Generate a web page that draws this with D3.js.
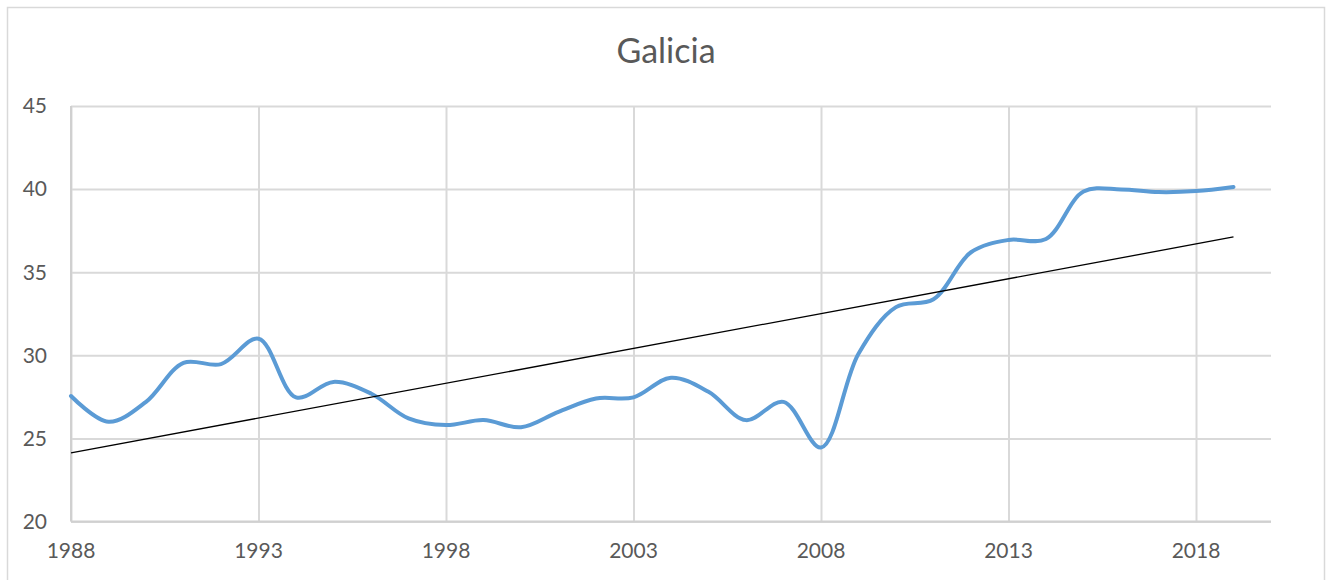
<!DOCTYPE html>
<html>
<head>
<meta charset="utf-8">
<script src="https://cdn.jsdelivr.net/npm/d3@7"></script>
<style>
    body { margin: 0; background: #fff; }
    svg text { font-family: Lato, "Open Sans", sans-serif; fill: #595959; }
    .grid line { stroke: #d9d9d9; stroke-width: 2; }
    .grid path { display: none; }
</style>
</head>
<body>
<svg id="chart" width="1331" height="580"></svg>
<script>
// years and the Galicia series
const years = d3.range(1988, 2020);
const values = [27.55, 26.0, 27.2, 29.55, 29.47, 31.0, 27.47, 28.4, 27.7, 26.2,
    25.8, 26.1, 25.67, 26.6, 27.4, 27.47, 28.65, 27.8, 26.1, 27.2,
    24.45, 30.1, 32.9, 33.37, 36.2, 36.94, 37.0, 39.85, 39.98, 39.82,
    39.88, 40.13];
const xTicks = [1988, 1993, 1998, 2003, 2008, 2013, 2018];
const yTicks = [20, 25, 30, 35, 40, 45];

const svg = d3.select("#chart");

const x = d3.scaleLinear().domain([1988, 2020]).range([71, 1271]);
const y = d3.scaleLinear().domain([20, 45]).range([521.5, 106]);

// chart border
svg.append("rect")
    .attr("x", 7.5).attr("y", 7.5)
    .attr("width", 1317).attr("height", 600)
    .attr("fill", "none")
    .attr("stroke", "#d9d9d9")
    .attr("stroke-width", 1.5);

// title
svg.append("text")
    .attr("x", 666).attr("y", 63)
    .attr("text-anchor", "middle")
    .style("font-size", "34px")
    .text("Galicia");

// horizontal gridlines
svg.append("g")
    .attr("class", "grid")
    .attr("transform", "translate(71,0)")
    .call(d3.axisRight(y).tickValues(yTicks).tickSize(1200).tickFormat(""));

// vertical gridlines
svg.append("g")
    .attr("class", "grid")
    .attr("transform", "translate(0,106)")
    .call(d3.axisBottom(x).tickValues(xTicks).tickSize(415.5).tickFormat(""));

// axis lines
svg.append("line")
    .attr("x1", 71).attr("x2", 71).attr("y1", 106).attr("y2", 521.5)
    .attr("stroke", "#d0d0d0").attr("stroke-width", 2);
svg.append("line")
    .attr("x1", 71).attr("x2", 1271).attr("y1", 521.5).attr("y2", 521.5)
    .attr("stroke", "#d0d0d0").attr("stroke-width", 2);

// tick labels
svg.append("g")
    .selectAll("text")
    .data(yTicks)
    .enter()
    .append("text")
    .attr("x", 47)
    .attr("y", d => y(d))
    .attr("dy", "0.35em")
    .attr("text-anchor", "end")
    .style("font-size", "21px")
    .text(d => d);

svg.append("g")
    .selectAll("text")
    .data(xTicks)
    .enter()
    .append("text")
    .attr("x", d => x(d))
    .attr("y", 558)
    .attr("text-anchor", "middle")
    .style("font-size", "21px")
    .text(d => d);

// series line
const line = d3.line()
    .x((d, i) => x(years[i]))
    .y(d => y(d))
    .curve(d3.curveCatmullRom.alpha(0.5));

svg.append("path")
    .datum(values)
    .attr("d", line)
    .attr("fill", "none")
    .attr("stroke", "#5b9bd5")
    .attr("stroke-width", 4)
    .attr("stroke-linecap", "round");

// linear trendline (least squares)
const mx = d3.mean(years), my = d3.mean(values);
let num = 0, den = 0;
years.forEach((t, i) => {
    num += (t - mx) * (values[i] - my);
    den += (t - mx) * (t - mx);
});
const slope = num / den;
const icpt = my - slope * mx;
const ends = [years[0], years[years.length - 1]];

svg.append("line")
    .attr("x1", x(ends[0])).attr("y1", y(icpt + slope * ends[0]))
    .attr("x2", x(ends[1])).attr("y2", y(icpt + slope * ends[1]))
    .attr("stroke", "#000")
    .attr("stroke-width", 1.3);
</script>
</body>
</html>
